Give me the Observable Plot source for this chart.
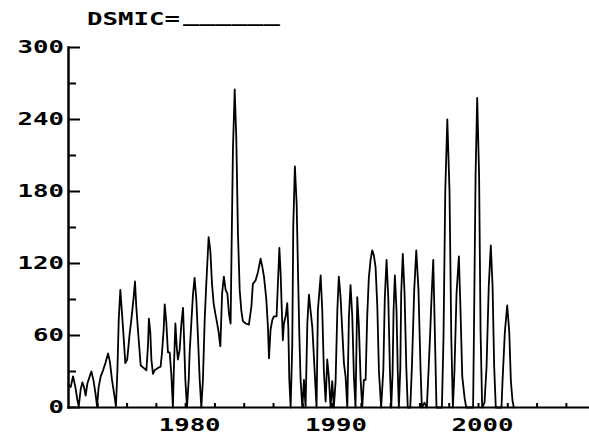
<!DOCTYPE html>
<html><head><meta charset="utf-8">
<script src="https://cdn.jsdelivr.net/npm/d3@7"></script>
<script src="https://cdn.jsdelivr.net/npm/@observablehq/plot@0.6"></script>
<style>
body{margin:0;background:#fff;width:589px;height:441px;overflow:hidden;}
#title{position:relative;height:30px;font-family:"DejaVu Sans Mono";font-weight:bold;font-size:18px;line-height:18px;color:#000;}
#title .t{position:absolute;left:87px;top:10px;white-space:nowrap;display:inline-block;transform:scaleX(1.43);transform-origin:0 0;}
#title .u{position:absolute;left:183px;top:7px;white-space:nowrap;display:inline-block;transform:scaleX(1.49);transform-origin:0 0;}
#chart svg{display:block;}
</style>
</head><body>
<div id="title"><span class="t" id="tname"></span><span class="u" id="tblank"></span></div>
<div id="chart"></div>
<script>
const titleName = "DSMIC=";
const titleBlank = "______";
const year = [
1972.00,1972.15,1972.31,1972.47,1972.61,1972.70,1972.83,1972.95,1973.06,1973.17,1973.29,1973.45,1973.56,1973.70,1973.84,1973.95,
1974.06,1974.20,1974.36,1974.52,1974.70,1974.83,1974.97,1975.11,1975.24,1975.34,1975.43,1975.54,1975.72,1975.88,
1976.01,1976.18,1976.29,1976.45,1976.54,1976.63,1976.74,1976.93,1977.13,1977.32,1977.43,1977.49,1977.59,1977.66,1977.77,1977.88,
1978.11,1978.29,1978.38,1978.50,1978.57,1978.68,1978.79,1978.91,1979.02,1979.13,1979.20,1979.30,1979.39,1979.47,1979.59,1979.71,1979.82,1979.88,1979.98,
1980.09,1980.21,1980.27,1980.39,1980.50,1980.61,1980.73,1980.84,1980.96,1981.07,1981.18,1981.30,1981.41,1981.48,1981.57,1981.69,1981.80,1981.91,
1982.03,1982.14,1982.25,1982.37,1982.49,1982.61,1982.73,1982.85,1982.96,1983.07,1983.12,1983.23,1983.35,1983.46,1983.57,1983.69,1983.80,1983.91,
1984.10,1984.32,1984.49,1984.59,1984.78,1984.94,1985.12,1985.24,1985.35,1985.51,1985.62,1985.69,1985.80,1985.92,
1986.03,1986.21,1986.30,1986.40,1986.49,1986.55,1986.64,1986.71,1986.83,1986.94,1987.01,1987.08,1987.17,1987.28,1987.35,1987.46,1987.58,1987.67,1987.76,1987.85,1987.97,
1988.08,1988.19,1988.31,1988.42,1988.51,1988.65,1988.76,1988.87,1988.94,1989.03,1989.22,1989.33,1989.44,1989.56,1989.67,1989.78,1989.90,
1990.01,1990.12,1990.24,1990.36,1990.46,1990.58,1990.70,1990.81,1990.92,1991.04,1991.15,1991.26,1991.38,1991.49,1991.60,1991.72,1991.83,1991.95,
1992.06,1992.17,1992.29,1992.40,1992.51,1992.63,1992.74,1992.85,1992.97,1993.09,1993.20,1993.35,1993.50,1993.60,1993.72,1993.84,1993.95,
1994.04,1994.13,1994.20,1994.29,1994.40,1994.49,1994.56,1994.66,1994.72,1994.83,1994.95,1995.07,1995.17,1995.34,1995.45,1995.61,1995.75,1995.90,
1996.04,1996.13,1996.31,1996.47,1996.59,1996.70,1996.79,1996.91,1997.02,1997.13,1997.50,1997.61,1997.73,1997.87,
1998.02,1998.14,1998.25,1998.36,1998.50,1998.66,1998.77,1998.89,1999.05,1999.16,1999.63,1999.69,1999.80,1999.91,
2000.04,2000.14,2000.25,2000.41,2000.55,2000.70,2000.84,2000.96,2001.07,2001.18,2001.57,2001.64,2001.80,2001.96,
2002.10,2002.21,2002.32,2002.41
];
const dsmic = [
19,17,26,17,6,1,15,21,17,10,20,26,30,23,12,1,
17,26,31,37,45,38,23,12,1,31,73,98,67,37,
40,62,73,92,105,84,65,35,33,31,52,74,62,40,28,31,
33,34,45,65,86,71,46,46,28,0,34,70,51,40,48,70,83,62,23,
0,23,45,71,94,108,90,59,23,0,23,73,103,120,142,130,103,87,
78,71,63,51,95,109,98,95,78,70,117,215,265,224,146,98,81,72,
70,69,84,103,106,113,124,117,109,90,67,41,65,73,
76,76,103,133,111,87,56,70,76,87,67,23,0,51,151,201,170,115,63,23,0,
23,0,70,94,83,67,42,16,0,81,110,81,30,5,40,25,0,
22,0,22,81,109,92,63,37,26,0,76,102,76,26,0,92,68,23,
0,23,23,76,108,123,131,127,117,84,30,0,31,91,123,91,31,
0,28,81,110,81,28,0,33,95,128,95,33,0,0,33,98,131,98,
33,0,4,0,31,62,91,123,62,0,0,59,180,240,
180,59,0,31,95,126,81,26,8,0,0,64,194,258,
194,64,0,4,34,101,135,101,34,0,0,22,63,85,
63,22,6,0
];
const yLabelTicks = [0, 60, 120, 180, 240, 300];
const yMinorTicks = [30, 90, 150, 210, 270];
const xMinorTicks = [1974,1976,1978,1980,1982,1984,1986,1988,1990,1992,1994,1996,1998,2000,2002,2004,2006];
const xLabelTicks = [1980, 1990, 2000];
const xDomain = [1972, 2007.58];
const yDomain = [0, 300];

document.getElementById("tname").textContent = titleName;
document.getElementById("tblank").textContent = titleBlank;

const data = year.map((t, i) => ({t, v: dsmic[i]}));
const W = 589, H = 411, ML = 68, MR = 0, MT = 17, MB = 34;
const plotW = W - ML - MR, plotH = H - MT - MB;
const font = {fontFamily: "DejaVu Sans Mono", fontWeight: "bold", fontSize: 18};

const chart = Plot.plot({
  width: W, height: H,
  marginLeft: ML, marginRight: MR, marginTop: MT, marginBottom: MB,
  style: {background: "#fff", color: "#000", overflow: "visible"},
  x: {domain: xDomain},
  y: {domain: yDomain},
  marks: [
    Plot.line(data, {x: "t", y: "v", stroke: "#000", strokeWidth: 1.8}),
    Plot.tickY(yLabelTicks, {y: d => d, stroke: "#000", strokeWidth: 2, insetRight: plotW - 12}),
    Plot.tickY(yMinorTicks, {y: d => d, stroke: "#000", strokeWidth: 2, insetRight: plotW - 8}),
    Plot.tickX(xMinorTicks, {x: d => d, stroke: "#000", strokeWidth: 2, insetTop: plotH - 4}),
    Plot.frame({anchor: "left", stroke: "#000", strokeWidth: 2.5}),
    Plot.frame({anchor: "bottom", stroke: "#000", strokeWidth: 2}),
    Plot.axisY(yLabelTicks, {tickSize: 0, tickPadding: 4.5, label: null, fill: "#000", ...font}),
    Plot.axisX(xLabelTicks, {tickSize: 0, tickPadding: 11, dx: 4, label: null, tickFormat: "d", fill: "#000", ...font})
  ]
});
chart.querySelectorAll("text").forEach(t => {
  const tr = t.getAttribute("transform");
  if (tr) {
    t.setAttribute("transform", tr + " scale(1.43,1)");
  } else {
    const x = +(t.getAttribute("x") || 0), y = +(t.getAttribute("y") || 0);
    t.setAttribute("transform", `translate(${x},${y}) scale(1.43,1) translate(${-x},${-y})`);
  }
});
document.getElementById("chart").appendChild(chart);
</script>
</body></html>
